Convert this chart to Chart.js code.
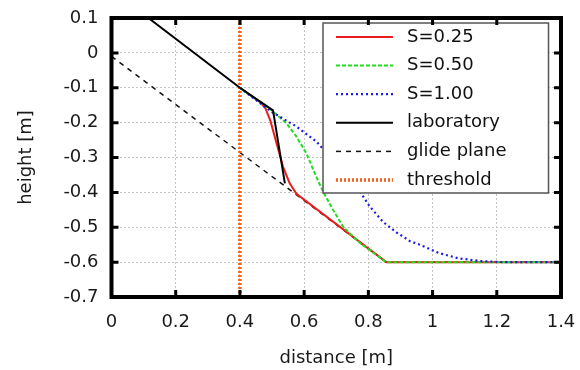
<!DOCTYPE html>
<html><head><meta charset="utf-8">
<script src="https://cdn.jsdelivr.net/npm/chart.js@4.4.0/dist/chart.umd.min.js"></script>
<style>html,body{margin:0;padding:0;background:#fff}#wrap{width:580px;height:370px}</style>
</head><body><div id="wrap"><canvas id="c" width="580" height="370"></canvas></div>
<script>
// tick values
const xTicks = [0, 0.2, 0.4, 0.6, 0.8, 1, 1.2, 1.4];
const yTicks = [-0.7, -0.6, -0.5, -0.4, -0.3, -0.2, -0.1, 0, 0.1];

// S=0.25
const s25X = [0.4, 0.465, 0.48, 0.495, 0.514, 0.534, 0.555, 0.576, 0.856, 1.4];
const s25Y = [-0.1, -0.143, -0.16, -0.195, -0.259, -0.326, -0.374, -0.404, -0.6, -0.6];
// S=0.50
const s50X = [0.4, 0.503, 0.545, 0.576, 0.607, 0.633, 0.659, 0.69, 0.721, 0.745, 0.775, 0.856, 1.4];
const s50Y = [-0.1, -0.168, -0.202, -0.24, -0.288, -0.345, -0.398, -0.45, -0.498, -0.52, -0.546, -0.6, -0.6];
// S=1.00
const s100X = [0.4, 0.5, 0.576, 0.638, 0.68, 0.721, 0.763, 0.804, 0.846, 0.888, 0.93, 0.96, 1.02, 1.08, 1.15, 1.22, 1.4];
const s100Y = [-0.1, -0.17, -0.211, -0.254, -0.297, -0.336, -0.383, -0.44, -0.485, -0.515, -0.54, -0.55, -0.574, -0.589, -0.597, -0.6, -0.6];
// laboratory
const labX = [0.115, 0.4, 0.503, 0.54];
const labY = [0.1, -0.1, -0.165, -0.374];
// glide plane
const glideX = [0, 0.856, 1.4];
const glideY = [-0.01, -0.6, -0.6];
// threshold
const thrX = [0.4, 0.4];
const thrY = [-0.7, 0.1];

const zip = (xs, ys) => xs.map((x, i) => ({x: x, y: ys[i]}));
const fmt = v => String(+(+v).toFixed(1));
const FONT = 'DejaVu Sans';

const datasets = [
  {label: 'S=0.25', data: zip(s25X, s25Y), borderColor: '#ea1c1c', borderWidth: 2, borderDash: [], order: 5},
  {label: 'S=0.50', data: zip(s50X, s50Y), borderColor: '#22dd22', borderWidth: 2, borderDash: [4, 2], order: 4},
  {label: 'S=1.00', data: zip(s100X, s100Y), borderColor: '#1c1ce6', borderWidth: 2.2, borderDash: [2, 3], order: 3},
  {label: 'laboratory', data: zip(labX, labY), borderColor: '#000000', borderWidth: 2, borderDash: [], order: 1},
  {label: 'glide plane', data: zip(glideX, glideY), borderColor: '#111111', borderWidth: 1.5, borderDash: [5, 5], order: 6},
  {label: 'threshold', data: zip(thrX, thrY), borderColor: '#f06020', borderWidth: 3.5, borderDash: [2, 2], order: 2}
].map(d => Object.assign({showLine: true, pointRadius: 0, fill: false, tension: 0}, d));

const framePlugin = {
  id: 'frame',
  afterDatasetsDraw(chart) {
    const ctx = chart.ctx, a = chart.chartArea;
    const xs = chart.scales.x, ys = chart.scales.y;
    // legend box
    const bx = a.right - 238, by = a.top + 5, bw = 225.5, bh = 170;
    ctx.save();
    ctx.fillStyle = '#fff';
    ctx.fillRect(bx, by, bw, bh);
    ctx.strokeStyle = '#555';
    ctx.lineWidth = 1.5;
    ctx.strokeRect(bx, by, bw, bh);
    ctx.font = '18px "' + FONT + '"';
    ctx.textBaseline = 'middle';
    ctx.fillStyle = '#111';
    chart.data.datasets.forEach((d, i) => {
      const yy = by + 14 + i * 28.6;
      ctx.beginPath();
      ctx.strokeStyle = d.borderColor;
      ctx.lineWidth = d.borderWidth;
      ctx.setLineDash(d.borderDash || []);
      ctx.moveTo(bx + 13, yy);
      ctx.lineTo(bx + 70, yy);
      ctx.stroke();
      ctx.setLineDash([]);
      ctx.fillText(d.label, bx + 84, yy);
    });
    // frame
    ctx.strokeStyle = '#000';
    ctx.lineWidth = 4;
    ctx.strokeRect(a.left, a.top, a.right - a.left, a.bottom - a.top);
    // inward ticks
    ctx.lineWidth = 3;
    const L = 7;
    xTicks.forEach(v => {
      const px = xs.getPixelForValue(v);
      ctx.beginPath();
      ctx.moveTo(px, a.bottom); ctx.lineTo(px, a.bottom - L);
      ctx.moveTo(px, a.top); ctx.lineTo(px, a.top + L);
      ctx.stroke();
    });
    yTicks.forEach(v => {
      const py = ys.getPixelForValue(v);
      ctx.beginPath();
      ctx.moveTo(a.left, py); ctx.lineTo(a.left + L, py);
      ctx.moveTo(a.right, py); ctx.lineTo(a.right - L, py);
      ctx.stroke();
    });
    ctx.restore();
  }
};

const zeroPad = s => { s.paddingLeft = 0; s.paddingRight = 0; s.paddingTop = 0; s.paddingBottom = 0; };

new Chart(document.getElementById('c'), {
  type: 'scatter',
  data: {datasets: datasets},
  options: {
    responsive: false,
    animation: false,
    events: [],
    layout: {padding: {top: 18, right: 19, left: 0, bottom: 0}},
    plugins: {legend: {display: false}, tooltip: {enabled: false}},
    scales: {
      x: {
        type: 'linear', min: 0, max: 1.4,
        afterBuildTicks: s => { s.ticks = xTicks.map(v => ({value: v})); },
        afterFit: s => { s.height = 73; zeroPad(s); },
        ticks: {callback: v => fmt(v), padding: 15, color: '#1a1a1a', font: {family: FONT, size: 18}, maxRotation: 0, autoSkip: false},
        grid: {color: '#c4c4c4', lineWidth: 1, drawTicks: false},
        border: {display: false, dash: [2, 2]},
        title: {display: true, text: 'distance [m]', color: '#1a1a1a', font: {family: FONT, size: 18}, padding: {top: 0, bottom: 1}}
      },
      y: {
        type: 'linear', min: -0.7, max: 0.1,
        afterBuildTicks: s => { s.ticks = yTicks.map(v => ({value: v})); },
        afterFit: s => { s.width = 111.5; zeroPad(s); },
        ticks: {callback: v => fmt(v), padding: 13, color: '#1a1a1a', font: {family: FONT, size: 18}, autoSkip: false},
        grid: {color: '#c4c4c4', lineWidth: 1, drawTicks: false},
        border: {display: false, dash: [2, 2]},
        title: {display: true, text: 'height [m]', color: '#1a1a1a', font: {family: FONT, size: 18}, padding: {top: 16, bottom: 4}}
      }
    }
  },
  plugins: [framePlugin]
});
</script>
</body></html>
